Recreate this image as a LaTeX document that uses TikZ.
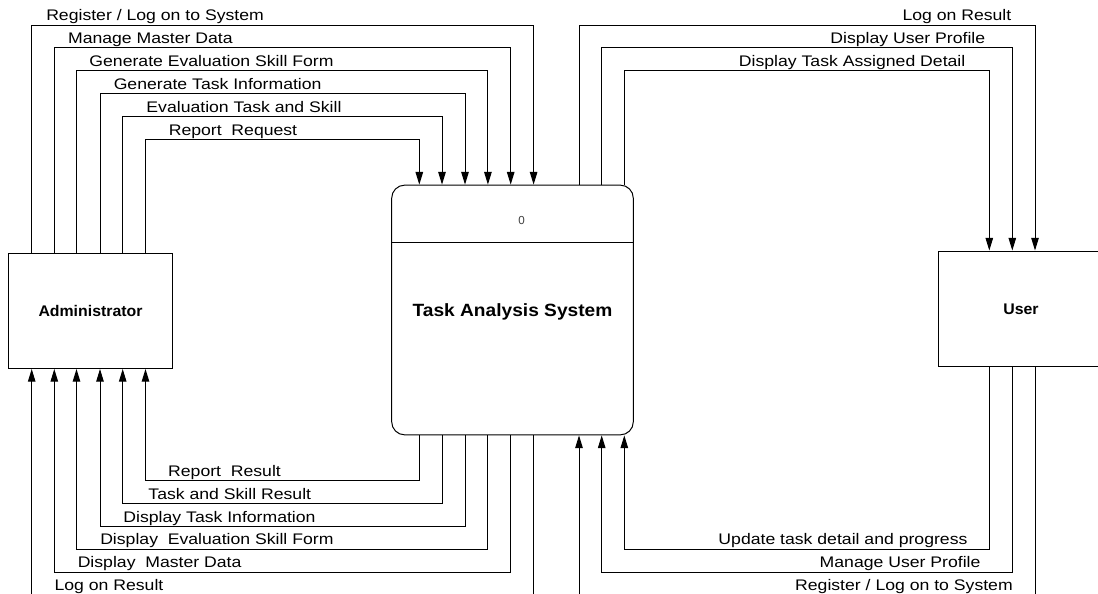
\documentclass[tikz,border=0pt]{standalone}
\usepackage{fontspec}
\setmainfont{Liberation Sans}
\newfontfamily\lblfont{Liberation Sans}[FakeStretch=1.15]
\newfontfamily\entfont{Liberation Sans}[FakeStretch=1.03]
\newfontfamily\procfont{Liberation Sans}[FakeStretch=1.08]
\usetikzlibrary{arrows.meta}

\tikzset{
  flow/.style={draw=black, line width=0.75pt, -{Triangle[length=9.5pt,width=5.6pt]}},
  lbl/.style={inner sep=0pt, font=\lblfont\fontsize{11.5}{13}\selectfont},
  entity/.style={draw=black, line width=0.75pt, fill=white, inner sep=0pt,
    minimum width=123.3pt, minimum height=86.5pt,
    font=\entfont\bfseries\fontsize{11.55}{13}\selectfont,
    text height=8.3pt, text depth=0pt},
  process/.style={draw=black, line width=0.75pt, fill=white, inner sep=0pt,
    rounded corners=9.75pt, minimum width=181.2pt, minimum height=187.3pt,
    font=\procfont\bfseries\fontsize{13.3}{15}\selectfont,
    text height=9.5pt, text depth=0pt},
}

\begin{document}
\begin{tikzpicture}[x=0.75pt, y=-0.75pt]
\useasboundingbox (0,0) rectangle (1098,593);
\clip (0,0) rectangle (1098,593);

% external entities and the context process
\node[entity] (admin) at (90.5,310.8) {Administrator};
\node[entity] (user) at (1021,308.7) {User};
\node[process] (proc) at (512.5,310) {Task Analysis System};
\draw[line width=0.75pt] (proc.west |- 0,242.3) -- (proc.east |- 0,242.3);
\node[inner sep=0pt, font=\fontsize{8.7}{10}\selectfont, text=black!75] (pnum) at (521.7,220.8) {0};

% Administrator -> process
\draw[flow] (admin.north -| 31.7,0) |- (533.6,25) -- (proc.north -| 533.6,0);
\node[lbl, anchor=base west] (l1) at (46,20.5) {Register / Log on to System};
\draw[flow] (admin.north -| 54.3,0) |- (510.7,47.9) -- (proc.north -| 510.7,0);
\node[lbl, anchor=base west] (l2) at (67.8,43.4) {Manage Master Data};
\draw[flow] (admin.north -| 76.5,0) |- (487.9,70.8) -- (proc.north -| 487.9,0);
\node[lbl, anchor=base west] (l3) at (89.2,66.3) {Generate Evaluation Skill Form};
\draw[flow] (admin.north -| 100,0) |- (465,93.7) -- (proc.north -| 465,0);
\node[lbl, anchor=base west] (l4) at (113.5,89.2) {Generate Task Information};
\draw[flow] (admin.north -| 122.7,0) |- (442,116.5) -- (proc.north -| 442,0);
\node[lbl, anchor=base west] (l5) at (146.2,112) {Evaluation Task and Skill};
\draw[flow] (admin.north -| 145.5,0) |- (419.3,139.5) -- (proc.north -| 419.3,0);
\node[lbl, anchor=base west] (l6) at (168.5,135) {Report\ \ Request};

% process -> Administrator
\draw[flow] (proc.south -| 419.3,0) |- (145.5,480.7) -- (admin.south -| 145.5,0);
\node[lbl, anchor=base west] (l7) at (167.9,476.2) {Report\ \ Result};
\draw[flow] (proc.south -| 442,0) |- (122.7,503.6) -- (admin.south -| 122.7,0);
\node[lbl, anchor=base west] (l8) at (148.2,499.1) {Task and Skill Result};
\draw[flow] (proc.south -| 465,0) |- (100,526.5) -- (admin.south -| 100,0);
\node[lbl, anchor=base west] (l9) at (123.2,522) {Display Task Information};
\draw[flow] (proc.south -| 487.9,0) |- (76.5,549.4) -- (admin.south -| 76.5,0);
\node[lbl, anchor=base west] (l10) at (100,544.9) {Display\ \ Evaluation Skill Form};
\draw[flow] (proc.south -| 510.7,0) |- (54.3,572.3) -- (admin.south -| 54.3,0);
\node[lbl, anchor=base west] (l11) at (77.5,567.8) {Display\ \ Master Data};
\draw[flow] (proc.south -| 533.6,0) |- (31.7,595.2) -- (admin.south -| 31.7,0);
\node[lbl, anchor=base west] (l12) at (54.3,590.7) {Log on Result};

% process -> User
\draw[flow] (proc.north -| 579,0) |- (1035,25) -- (user.north -| 1035,0);
\node[lbl, anchor=base east] (r1) at (1011.6,20.5) {Log on Result};
\draw[flow] (proc.north -| 601.7,0) |- (1012.3,47.9) -- (user.north -| 1012.3,0);
\node[lbl, anchor=base east] (r2) at (985.5,43.4) {Display User Profile};
\draw[flow] (proc.north -| 624.3,0) |- (989.3,70.8) -- (user.north -| 989.3,0);
\node[lbl, anchor=base east] (r3) at (965.6,66.3) {Display Task Assigned Detail};

% User -> process
\draw[flow] (user.south -| 989.3,0) |- (624.3,549.4) -- (proc.south -| 624.3,0);
\node[lbl, anchor=base east] (r4) at (967.7,544.9) {Update task detail and progress};
\draw[flow] (user.south -| 1012.3,0) |- (601.7,572.3) -- (proc.south -| 601.7,0);
\node[lbl, anchor=base east] (r5) at (980.7,567.8) {Manage User Profile};
\draw[flow] (user.south -| 1035,0) |- (579,595.2) -- (proc.south -| 579,0);
\node[lbl, anchor=base east] (r6) at (1013,590.7) {Register / Log on to System};
\end{tikzpicture}
\end{document}
